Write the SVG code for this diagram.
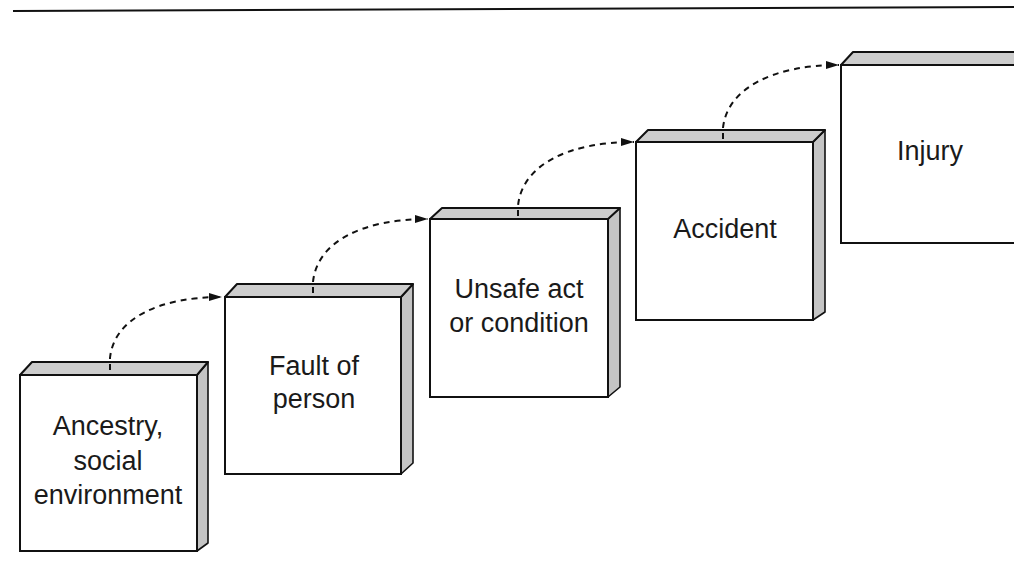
<svg xmlns="http://www.w3.org/2000/svg" width="1014" height="586" viewBox="0 0 1014 586">
<style>
.front{fill:#fff;stroke:#111;stroke-width:2}
.top{fill:#cdcdcd;stroke:#111;stroke-width:2;stroke-linejoin:round}
.side{fill:#c4c4c4;stroke:#111;stroke-width:1.6;stroke-linejoin:round}
.lbl{font-family:"Liberation Sans",Arial,sans-serif;font-size:27px;fill:#1a1a1a;text-anchor:middle}
.conn{fill:none;stroke:#111;stroke-width:2;stroke-dasharray:6,5}
</style>
<defs>
<marker id="ah" viewBox="0 0 10 10" refX="10" refY="5" markerWidth="13" markerHeight="8" markerUnits="userSpaceOnUse" orient="auto" preserveAspectRatio="none">
<path d="M0,0 L10,5 L0,10 z" fill="#111"/>
</marker>
</defs>
<rect width="1014" height="586" fill="#fff"/>
<line x1="13" y1="11" x2="1014" y2="7" stroke="#111" stroke-width="2"/>

<g id="node-ancestry">
<polygon class="side" points="197,375 208,362 208,543 197,551"/>
<polygon class="top" points="20,375 32,362 208,362 197,375"/>
<rect class="front" x="20" y="375" width="177" height="176"/>
<text class="lbl" x="108" y="435">Ancestry,</text>
<text class="lbl" x="108" y="470">social</text>
<text class="lbl" x="108" y="504">environment</text>
</g>

<g id="node-fault">
<polygon class="side" points="401,297 413,284 413,463 401,474"/>
<polygon class="top" points="225,297 237,284 413,284 401,297"/>
<rect class="front" x="225" y="297" width="176" height="177"/>
<text class="lbl" x="314" y="375">Fault of</text>
<text class="lbl" x="314" y="408">person</text>
</g>

<g id="node-unsafe">
<polygon class="side" points="608,219 620,208 620,387 608,397"/>
<polygon class="top" points="430,219 442,208 620,208 608,219"/>
<rect class="front" x="430" y="219" width="178" height="178"/>
<text class="lbl" x="519" y="298">Unsafe act</text>
<text class="lbl" x="519" y="332">or condition</text>
</g>

<g id="node-accident">
<polygon class="side" points="813,142 825,130 825,312 813,320"/>
<polygon class="top" points="636,142 648,130 825,130 813,142"/>
<rect class="front" x="636" y="142" width="177" height="178"/>
<text class="lbl" x="725" y="238">Accident</text>
</g>

<g id="node-injury">
<polygon class="top" points="841,65 853,52 1020,52 1020,65"/>
<rect class="front" x="841" y="65" width="185" height="178"/>
<text class="lbl" x="930" y="160">Injury</text>
</g>

<g id="connectors">
<path class="conn" d="M110,370 L110,358 C114,318 160,297 222,297" marker-end="url(#ah)"/>
<path class="conn" d="M313,293 L313,282 C317,242 362,219 428,219" marker-end="url(#ah)"/>
<path class="conn" d="M518,216 L518,206 C522,165 568,142 634,142" marker-end="url(#ah)"/>
<path class="conn" d="M723,139 L723,128 C727,89 772,65 839,65" marker-end="url(#ah)"/>
</g>
</svg>
